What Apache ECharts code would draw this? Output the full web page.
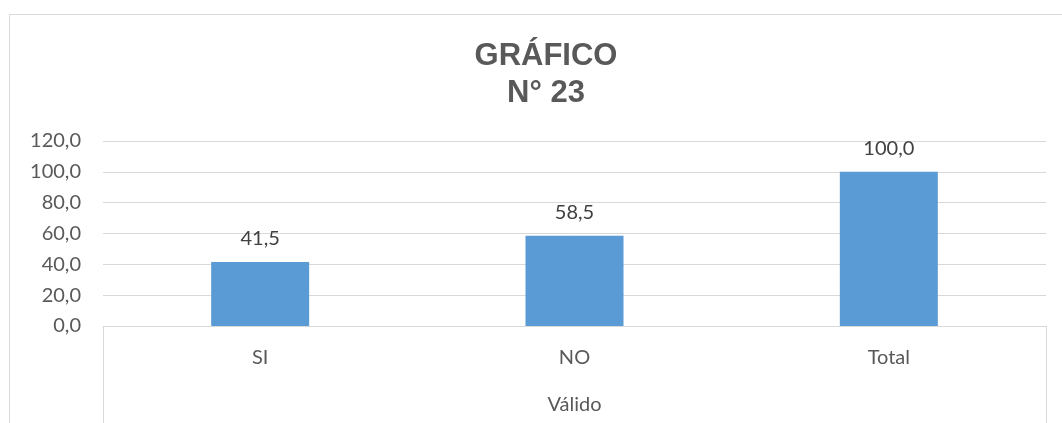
<!DOCTYPE html>
<html>
<head>
<meta charset="utf-8">
<script src="https://cdn.jsdelivr.net/npm/echarts@6/dist/echarts.min.js"></script>
<style>
  html, body { margin: 0; padding: 0; background: #fff; }
  #chart { width: 1062px; height: 423px; }
</style>
</head>
<body>
<div id="chart"></div>
<script>
// datos del gráfico
const categorias = ["SI", "NO", "Total"];
const grupo = ["Válido"];
const porcentajes = [41.5, 58.5, 100.0];
const yTicks = { min: 0, max: 120, interval: 20 };

const fmt = (v) => Number(v).toFixed(1).replace(".", ",");
const labelFont = "Lato, 'Open Sans', sans-serif";

const chart = echarts.init(document.getElementById("chart"));
chart.setOption({
  animation: false,
  backgroundColor: "#ffffff",
  title: {
    text: "GRÁFICO\nN° 23",
    left: 541,
    top: 33,
    textAlign: "center",
    textStyle: {
      fontFamily: "'Liberation Sans', Arial, sans-serif",
      fontWeight: "bold",
      fontSize: 31,
      lineHeight: 37,
      color: "#595959",
    },
  },
  // marco exterior
  graphic: [
    {
      type: "rect",
      shape: { x: 9.5, y: 14.5, width: 1200, height: 600 },
      style: { fill: "none", stroke: "#d9d9d9", lineWidth: 1 },
      silent: true,
    },
  ],
  grid: { left: 103, right: 16, top: 141, bottom: 97 },
  xAxis: [
    {
      type: "category",
      data: categorias,
      axisLine: { show: true, lineStyle: { color: "#d9d9d9" } },
      axisTick: { show: false },
      axisLabel: {
        margin: 22,
        fontFamily: labelFont,
        fontSize: 20,
        color: "#595959",
      },
    },
    {
      type: "category",
      data: grupo,
      position: "bottom",
      axisLine: { show: false },
      axisTick: {
        show: true,
        length: 100,
        lineStyle: { color: "#d9d9d9" },
      },
      axisLabel: {
        margin: 69,
        fontFamily: labelFont,
        fontSize: 20,
        color: "#595959",
      },
    },
  ],
  yAxis: {
    type: "value",
    min: yTicks.min,
    max: yTicks.max,
    interval: yTicks.interval,
    axisLine: { show: false },
    axisTick: { show: false },
    axisLabel: {
      margin: 22,
      formatter: fmt,
      fontFamily: labelFont,
      fontSize: 20,
      color: "#595959",
    },
    splitLine: { lineStyle: { color: "#d9d9d9", width: 1 } },
  },
  series: [
    {
      type: "bar",
      xAxisIndex: 0,
      data: porcentajes,
      barWidth: 98,
      itemStyle: { color: "#5b9bd5" },
      label: {
        show: true,
        position: "top",
        distance: 13,
        formatter: (p) => fmt(p.value),
        fontFamily: labelFont,
        fontSize: 20,
        color: "#404040",
      },
    },
  ],
});
</script>
</body>
</html>
